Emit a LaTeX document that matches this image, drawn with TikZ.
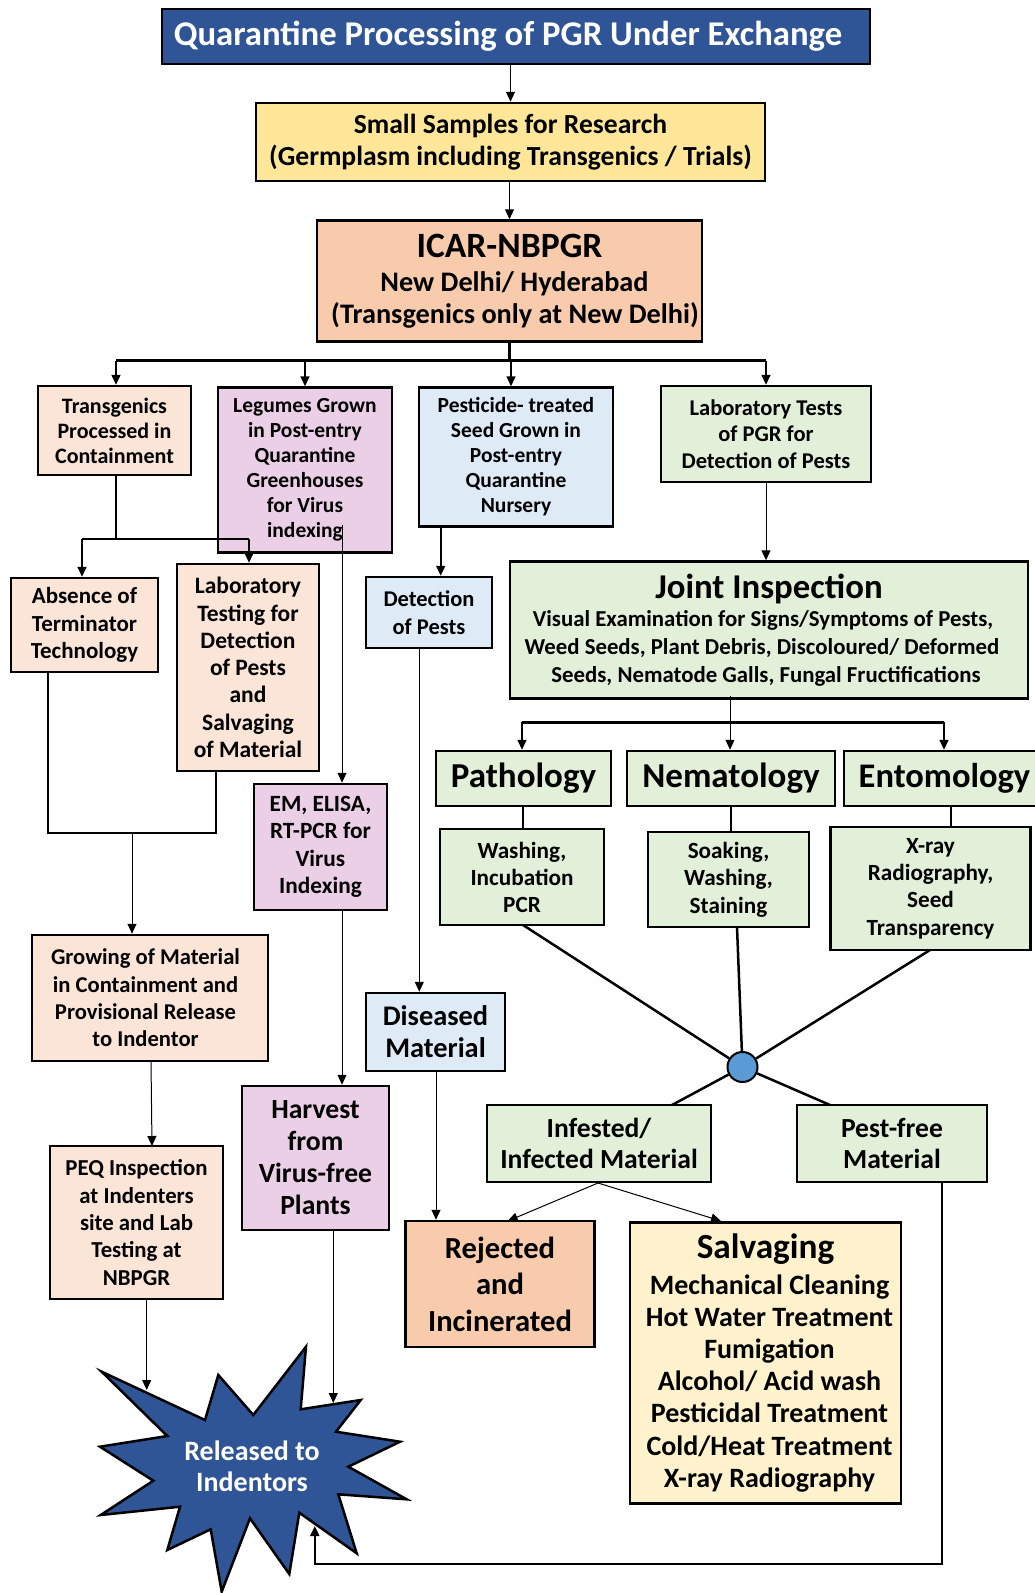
\documentclass[tikz,border=0pt]{standalone}
\usepackage{fontspec}
\setmainfont{Carlito}
\usetikzlibrary{arrows.meta,calc}
\definecolor{cTitle}{HTML}{2F5597}
\definecolor{cYel}{HTML}{FFE699}
\definecolor{cOrg}{HTML}{F8CBAD}
\definecolor{cPeach}{HTML}{FBE5D6}
\definecolor{cPurp}{HTML}{EACFE6}
\definecolor{cBlue}{HTML}{DEEBF7}
\definecolor{cGrn}{HTML}{E2F0D9}
\definecolor{cCream}{HTML}{FFF2CC}
\definecolor{cCirc}{HTML}{5B9BD5}
\newcommand\myfs[2]{\fontsize{#1}{#2}\selectfont}
\tikzset{
  box/.style={draw=black, line width=2.5pt, inner sep=0pt, align=center},
  thinline/.style={line width=1pt},
  medline/.style={line width=1.6pt},
  thickline/.style={line width=2.5pt},
  arr/.style={-{Triangle[length=10pt,width=9pt]}},
}
\begin{document}
\begin{tikzpicture}[x=1pt,y=-1pt]
\useasboundingbox (0,0) rectangle (1035,1593);
\clip (0,0) rectangle (1035,1593);

% ---------- nodes ----------
\node[box, line width=2pt, fill=cTitle, text=white, font=\bfseries\myfs{34.7}{40}, minimum width=708pt, minimum height=55pt] (title) at (516,36.5) {Quarantine Processing of PGR Under Exchange\kern16pt};
\node[box, fill=cYel, font=\bfseries\myfs{27.6}{32}, minimum width=509pt, minimum height=78pt] (small) at (510.5,142) {Small Samples for Research\\(Germplasm including Transgenics / Trials)};
\node[box, fill=cOrg, font=\bfseries\myfs{28.3}{31.5}, minimum width=385pt, minimum height=121pt] (icar) at (509.5,281) {{\myfs{35.6}{40}ICAR-NBPGR}\\[3pt]\hspace*{10pt}New Delhi/ Hyderabad\\\hspace*{11pt}(Transgenics only at New Delhi)};

\node[box, fill=cPeach, font=\bfseries\myfs{22}{25}, minimum width=153pt, minimum height=89pt] (trans) at (114.5,430.5) {Transgenics\\Processed in\\Containment};
\node[box, fill=cPurp, font=\bfseries\myfs{21.5}{25}, minimum width=174pt, minimum height=165pt] (leg) at (305,470) {Legumes Grown\\in Post-entry\\Quarantine\\Greenhouses\\for Virus\\indexing};
\node[box, fill=cBlue, font=\bfseries\myfs{21.5}{25}, minimum width=194pt, minimum height=139pt] (pest) at (516,457) {Pesticide- treated\\Seed Grown in\\Post-entry\\Quarantine\\Nursery};
\node[box, fill=cGrn, font=\bfseries\myfs{22.5}{26.7}, minimum width=210pt, minimum height=96pt] (labt) at (766,434) {Laboratory Tests\\of PGR for\\Detection of Pests};

\node[box, fill=cPeach, font=\bfseries\myfs{23}{27.7}, minimum width=147pt, minimum height=94pt] (abs) at (84.5,625) {Absence of\\Terminator\\Technology};
\node[box, fill=cPeach, font=\bfseries\myfs{23.5}{27.3}, minimum width=142pt, minimum height=207pt] (labtest) at (248,667.5) {Laboratory\\Testing for\\Detection\\of Pests\\and\\Salvaging\\of Material};
\node[box, fill=cBlue, font=\bfseries\myfs{22.5}{28}, minimum width=126pt, minimum height=71pt] (det) at (429,612.5) {Detection\\of Pests};
\node[box, fill=cGrn, font=\bfseries\myfs{22.8}{28}, minimum width=518pt, minimum height=137pt] (ji) at (769,630) {{\myfs{34.8}{40}Joint Inspection}\\Visual Examination for Signs/Symptoms of Pests,\kern12pt\\Weed Seeds, Plant Debris, Discoloured/ Deformed\kern14pt\\Seeds, Nematode Galls, Fungal Fructifications\kern6pt};

\node[box, fill=cPurp, font=\bfseries\myfs{23.3}{27.5}, minimum width=133pt, minimum height=126pt] (em) at (320.5,847) {EM, ELISA,\\RT-PCR for\\Virus\\Indexing};
\node[box, fill=cPeach, font=\bfseries\myfs{22.6}{27.4}, minimum width=236pt, minimum height=126pt] (grow) at (150,998) {Growing of Material\kern9pt\\in Containment and\kern9pt\\Provisional Release\kern9pt\\to Indentor\kern9pt};
\node[box, fill=cPeach, font=\bfseries\myfs{22.8}{27.4}, minimum width=173pt, minimum height=153pt] (peq) at (136.5,1222.5) {PEQ Inspection\\at Indenters\\site and Lab\\Testing at\\NBPGR};
\node[box, fill=cPurp, font=\bfseries\myfs{27.7}{32}, minimum width=147pt, minimum height=144pt] (harv) at (315.5,1158) {Harvest\\from\\Virus-free\\Plants};
\node[box, fill=cBlue, font=\bfseries\myfs{28.4}{32}, minimum width=139pt, minimum height=78pt] (dis) at (435.5,1032) {Diseased\\Material};
\node[box, fill=cOrg, font=\bfseries\myfs{30.6}{36.6}, minimum width=189pt, minimum height=126pt] (rej) at (500,1284) {Rejected\\and\\Incinerated};
\node[box, fill=cCream, font=\bfseries\myfs{28}{32.2}, minimum width=271pt, minimum height=281pt] (salv) at (765.5,1363) {{\myfs{35.3}{40}Salvaging}\\[3pt]\hspace*{8pt}Mechanical Cleaning\\\hspace*{8pt}Hot Water Treatment\\\hspace*{8pt}Fumigation\\\hspace*{8pt}Alcohol/ Acid wash\\\hspace*{8pt}Pesticidal Treatment\\\hspace*{8pt}Cold/Heat Treatment\\\hspace*{8pt}X-ray Radiography};

\node[box, fill=cGrn, font=\bfseries\myfs{35}{40}, minimum width=175pt, minimum height=55pt] (path) at (523.5,778.5) {Pathology};
\node[box, fill=cGrn, font=\bfseries\myfs{35}{40}, minimum width=208pt, minimum height=55pt] (nema) at (731,778.5) {Nematology};
\node[box, fill=cGrn, font=\bfseries\myfs{34.5}{40}, minimum width=201pt, minimum height=55pt] (ento) at (944.5,778.5) {Entomology};
\node[box, fill=cGrn, font=\bfseries\myfs{23.2}{27}, minimum width=164pt, minimum height=96pt] (wash) at (522,877) {Washing,\\Incubation\\PCR};
\node[box, fill=cGrn, font=\bfseries\myfs{23.2}{27.4}, minimum width=161pt, minimum height=95pt] (soak) at (728.5,879.5) {Soaking,\\Washing,\\Staining};
\node[box, fill=cGrn, font=\bfseries\myfs{23.2}{27.4}, minimum width=200pt, minimum height=123pt] (xray) at (930.5,888.5) {X-ray\\Radiography,\\Seed\\Transparency};
\node[circle, draw=black, line width=2pt, fill=cCirc, minimum size=30pt, inner sep=0pt] (circ) at (742.5,1067) {};
\node[box, fill=cGrn, font=\bfseries\myfs{27.6}{31.5}, minimum width=224pt, minimum height=77pt] (inf) at (599,1143.5) {Infested/\\Infected Material};
\node[box, fill=cGrn, font=\bfseries\myfs{27.6}{31.5}, minimum width=190pt, minimum height=77pt] (pf) at (892,1143.5) {Pest-free\\Material};

% ---------- star ----------
\draw[fill=cTitle, line width=2.5pt, line join=miter]
  (101.7,1371.7) -- (205,1420) -- (218.3,1375) -- (253.3,1415) -- (306,1346.7) -- (300.7,1409.3) -- (360.7,1400) -- (336,1431.7) -- (400,1441.7) -- (348.3,1466.7) -- (406.7,1499.3) -- (338.3,1494.3) -- (356.7,1553.3) -- (299.3,1512.7) -- (289.3,1574) -- (250,1518.3) -- (221.7,1591.7) -- (210.7,1529.3) -- (167.3,1550) -- (180,1506.7) -- (100.7,1515) -- (153.3,1480.7) -- (100,1446.7) -- (167.3,1436) -- cycle;
\node[align=center, text=white, font=\bfseries\myfs{28}{30.7}, inner sep=0pt] (star) at (252,1466) {Released to\\Indentors};

% ---------- coordinates ----------
\coordinate (busL) at (116,360.7);
\coordinate (busR) at (766,360.7);
\coordinate (busP) at (511,360.7);
\coordinate (tsplit) at (116,539);
\coordinate (tsL) at (82,539);
\coordinate (tsR) at (249,539);
\coordinate (legout) at (342,525);
\coordinate (pestout) at (440.7,526.5);
\coordinate (detout) at (419.3,648);
\coordinate (absout) at (48,672);
\coordinate (loopL) at (48,833);
\coordinate (loopR) at (216,833);
\coordinate (loopM) at (132,833);
\coordinate (growout) at (151,1061);
\coordinate (peqin) at (152,1146);
\coordinate (peqout) at (146.7,1299);
\coordinate (starA) at (146.7,1390);
\coordinate (harvout) at (333.3,1230);
\coordinate (starB) at (333.3,1403);
\coordinate (disout) at (436,1071);
\coordinate (jiout) at (730,696);
\coordinate (jbL) at (522,722.3);
\coordinate (jbR) at (944,722.3);
\coordinate (washout) at (523,925);
\coordinate (soakout) at (737,927);
\coordinate (xrayout) at (930,950);
\coordinate (infin) at (672,1105);
\coordinate (pfin) at (830,1105);
\coordinate (infout) at (598,1183);
\coordinate (rejin) at (507.7,1221);
\coordinate (salvin) at (721,1221);
\coordinate (pfout) at (942,1182);
\coordinate (pfD) at (942,1564);
\coordinate (pfL) at (314.8,1564);
\coordinate (starC) at (314.8,1526);

% ---------- connectors ----------
\draw[thinline, arr] (small.north |- title.south) -- (small.north);
\draw[thinline, arr] (icar.north |- small.south) -- (icar.north);
\draw[thickline] (icar.south) -- (icar.south |- busL);
\draw[thickline] (busL) -- (busR);
\draw[medline, arr] (busL) -- (busL |- trans.north);
\draw[medline, arr] (leg.north |- busL) -- (leg.north);
\draw[medline, arr] (busP) -- (busP |- pest.north);
\draw[medline, arr] (busR) -- (busR |- labt.north);

\draw[thickline] (trans.south -| tsplit) -- (tsplit);
\draw[thickline] (tsL) -- (tsR);
\draw[medline, arr] (tsL) -- (tsL |- abs.north);
\draw[medline, arr] (tsR) -- (tsR |- labtest.north);

\draw[thinline, arr] (legout) -- (legout |- em.north);
\draw[medline, arr] (pestout) -- (pestout |- det.north);
\draw[thinline, arr] (detout) -- (detout |- dis.north);
\draw[thinline, arr] (labt.south -| busR) -- (busR |- ji.north);

\draw[thickline] (absout) -- (loopL) -- (loopR) -- (loopR |- labtest.south);
\draw[thinline, arr] (loopM) -- (loopM |- grow.north);
\draw[thinline, arr] (growout) -- (peqin);
\draw[thinline, arr] (peqout) -- (starA);
\draw[thinline, arr] (em.south -| legout) -- (legout |- harv.north);
\draw[thinline, arr] (harvout) -- (starB);
\draw[thinline, arr] (disout) -- (disout |- rej.north);

\draw[thinline, arr] (jiout) -- (jiout |- nema.north);
\draw[thickline] (jbL) -- (jbR);
\draw[medline, arr] (jbL) -- (jbL |- path.north);
\draw[medline, arr] (jbR) -- (jbR |- ento.north);
\draw[medline] (path.south -| washout) -- (washout |- wash.north);
\draw[medline] (nema.south -| 731,0) -- (731,831.7);
\draw[medline] (ento.south -| 951,0) -- (951,826.7);

\draw[thickline] (washout) -- (circ);
\draw[thickline] (soakout) -- (circ);
\draw[thickline] (xrayout) -- (circ);
\draw[thickline] (circ) -- (infin);
\draw[thickline] (circ) -- (pfin);

\draw[thinline, arr] (infout) -- (rejin);
\draw[thinline, arr] (infout) -- (salvin);
\draw[line width=2pt] (pfout) -- (pfD) -- (pfL) -- ++(0,-20);
\draw[line width=2pt, arr] (pfL) -- (starC);
\end{tikzpicture}
\end{document}
